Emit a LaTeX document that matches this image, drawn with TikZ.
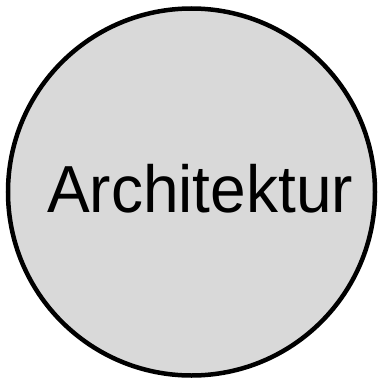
\documentclass[tikz,border=0pt]{standalone}
\usepackage{fontspec}
\setmainfont{Liberation Sans}
\definecolor{circfill}{HTML}{D9D9D9}
\tikzset{topic/.style={circle, draw=black, line width=4.5pt, fill=circfill, minimum size=367pt, inner sep=0pt}}
\begin{document}
\begin{tikzpicture}[x=1pt,y=-1pt]
\useasboundingbox (0,0) rectangle (378,380);
\node[topic] (c) at (191.5,192) {};
\node[anchor=base, font=\fontsize{64}{70}\selectfont, inner sep=0pt, yscale=1.04] (t) at (200,212) {Architektur};
\end{tikzpicture}
\end{document}
